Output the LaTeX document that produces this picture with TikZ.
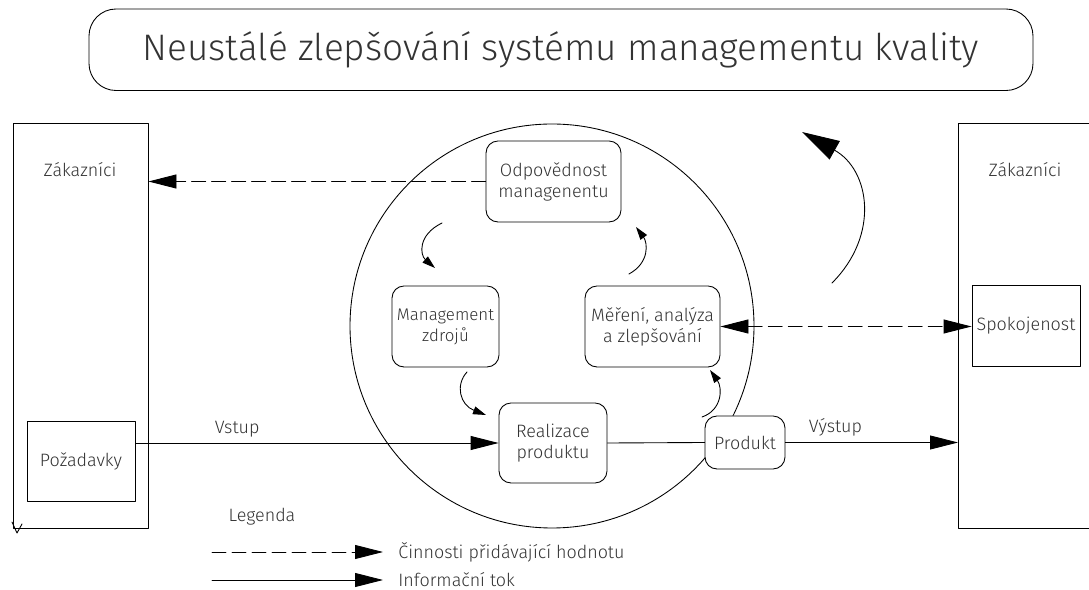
\documentclass[tikz,border=0pt]{standalone}
\usepackage{fontspec}
\setmainfont{Fira Sans}[UprightFont=* Light]
\usepackage{tikz}
\usetikzlibrary{arrows.meta}
\usetikzlibrary{positioning}

\begin{document}
\begin{tikzpicture}[line cap=round,line join=round,x=1cm,y=1cm,line width=0.5pt,
  >={Triangle[length=0.56cm,width=0.28cm]},
  cil/.style={draw,rounded corners=0.24cm,fill=white,align=center,inner sep=0pt},
  ram/.style={draw,inner sep=0pt},
  hrot/.style={-{Triangle[length=0.26cm,width=0.16cm]}},
  carka/.style={dash pattern=on 0.28cm off 0.12cm},
  font=\fontsize{10.2}{12}\selectfont,text=black!80]
\clip(0,0) rectangle (21.78,11.8);
\node[draw,rounded corners=0.54cm,minimum width=18.88cm,minimum height=1.63cm,font=\fontsize{21}{24}\selectfont] (nadpis) at (11.22,10.805) {Neustálé zlepšování systému managementu kvality};
\node[ram,minimum width=2.7cm,minimum height=8.1cm] (zakL) at (1.61,5.29) {};
\node (zakLt) at (1.6,8.4) {Zákazníci};
\node[ram,minimum width=2.16cm,minimum height=1.6cm] (poz) at (1.62,2.58) {Požadavky};
\node[ram,minimum width=2.84cm,minimum height=8.1cm,anchor=west] (zakR) at (19.16,5.29) {};
\node (zakRt) at (20.5,8.4) {Zákazníci};
\node[ram,minimum width=2.16cm,minimum height=1.62cm] (spok) at (20.52,5.29) {Spokojenost};
\draw (11.04,5.28) circle (4.04cm);
\node[cil,minimum width=2.7cm,minimum height=1.62cm] (odp) at (11.07,8.17) {Odpovědnost\\managenentu};
\node[cil,minimum width=2.14cm,minimum height=1.62cm,font=\fontsize{9.6}{12}\selectfont] (zdr) at (8.91,5.27) {Management\\zdrojů};
\node[cil,minimum width=2.7cm,minimum height=1.62cm] (mer) at (13.05,5.27) {Měření, analýza\\a zlepšování};
\node[cil,minimum width=2.16cm,minimum height=1.6cm] (real) at (11.06,2.94) {Realizace\\produktu};
\node[cil,minimum width=1.6cm,minimum height=1.06cm] (prod) at (14.9,2.95) {Produkt};
\draw[carka,->] (odp.west) -- (odp.west -| zakL.east);
\draw[carka,<->] (mer.east) -- (mer.east -| spok.west);
\draw[->] (real.west -| poz.east) -- node[above,pos=0.28] {Vstup} (real.west);
\draw (real.east) -- (prod.west);
\draw[->] (prod.east) -- node[above,pos=0.29] {Výstup} (prod.east -| zakR.west);
\draw[hrot] (8.84,7.34) .. controls (8.35,7.1) and (8.4,6.7) .. (8.7,6.44);
\draw[hrot] (9.34,4.36) .. controls (9.1,4.1) and (9.2,3.7) .. (9.72,3.5);
\draw[hrot] (14.04,3.46) .. controls (14.45,3.6) and (14.45,4.05) .. (14.2,4.4);
\draw[hrot] (12.58,6.32) .. controls (13.0,6.55) and (12.95,6.95) .. (12.72,7.26);
\draw[-{Triangle[length=0.75cm,width=0.42cm]}] (16.64,6.14) .. controls (17.6,7.1) and (17.4,8.4) .. (16.04,9.16);
\draw (0.24,1.36) -- (0.34,1.14) -- (0.44,1.32);
\node (leg) at (5.24,1.46) {Legenda};
\node[anchor=west,inner sep=0pt] (leg1) at (7.96,0.76) {Činnosti přidávající hodnotu};
\node[anchor=west,inner sep=0pt] (leg2) at (7.96,0.2) {Informační tok};
\draw[carka,->] (4.24,0.76) -- ([xshift=-0.3cm]leg1.west);
\draw[->] (4.24,0.2) -- ([xshift=-0.3cm]leg2.west);
\end{tikzpicture}
\end{document}
